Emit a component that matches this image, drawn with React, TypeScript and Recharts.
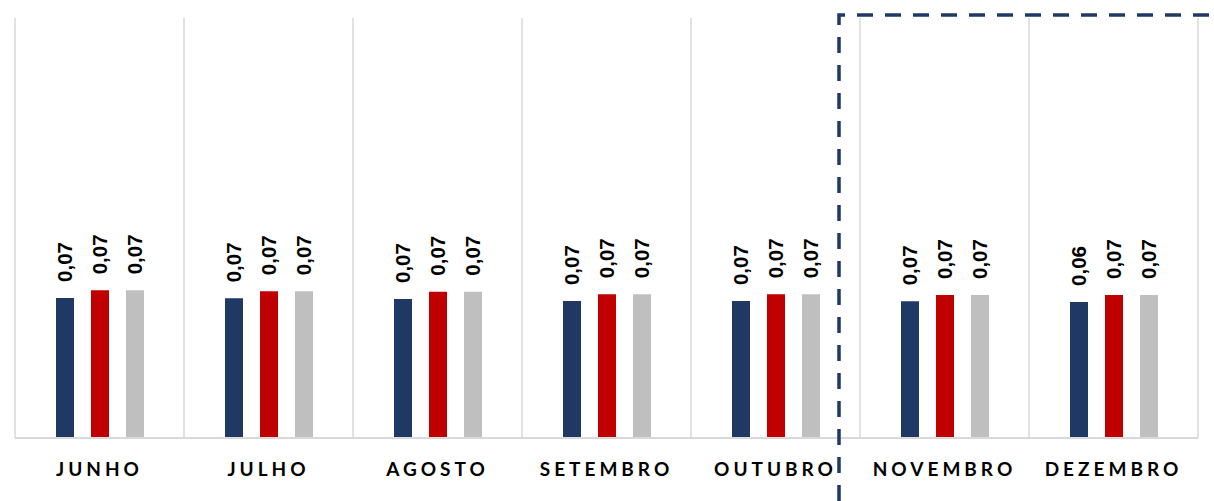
import { Bar, BarChart, CartesianGrid, LabelList, XAxis, YAxis } from "recharts";

const MONTHS = ["JUNHO", "JULHO", "AGOSTO", "SETEMBRO", "OUTUBRO", "NOVEMBRO", "DEZEMBRO"];
const SERIE_A = [0.0667, 0.0665, 0.0662, 0.0652, 0.0652, 0.0651, 0.0648];
const SERIE_B = [0.0703, 0.0699, 0.0697, 0.0685, 0.0684, 0.0681, 0.0681];
const SERIE_C = [0.0703, 0.0699, 0.0697, 0.0685, 0.0684, 0.0681, 0.0681];

const NAVY = "#203864";
const RED = "#C00000";
const GRAY = "#BFBFBF";
const GRID = "#D9D9D9";

const data = MONTHS.map((m, i) => ({ m, a: SERIE_A[i], b: SERIE_B[i], c: SERIE_C[i] }));

const fmt = (v: number) => v.toFixed(2).replace(".", ",");

function ValueLabel(props: any) {
  const { x, y, width, value } = props;
  const cx = x + width / 2;
  const cy = y - 16;
  return (
    <text
      x={cx}
      y={cy}
      transform={`rotate(-90 ${cx} ${cy})`}
      textAnchor="start"
      dominantBaseline="central"
      fontFamily="'Liberation Sans', Arial, sans-serif"
      fontWeight={700}
      fontSize={20.5}
      fill="#000"
    >
      {fmt(value)}
    </text>
  );
}

function MonthTick(props: any) {
  const { x, y, payload } = props;
  return (
    <text
      x={x}
      y={y + 30}
      textAnchor="middle"
      fontFamily="Lato, 'Open Sans', sans-serif"
      fontWeight={700}
      fontSize={19}
      letterSpacing={4}
      fill="#000"
    >
      {payload.value}
    </text>
  );
}

export default function App() {
  return (
    <div style={{ position: "absolute", left: 0, top: 0, width: 1214, height: 501, background: "#fff" }}>
      <BarChart
        width={1214}
        height={501}
        data={data}
        margin={{ top: 18, right: 16, bottom: 13, left: 15 }}
        barSize={18}
        barGap={17}
      >
        <CartesianGrid
          horizontal={false}
          stroke={GRID}
          strokeWidth={1.5}
          verticalCoordinatesGenerator={({ offset }: any) =>
            MONTHS.map((_, i) => offset.left + (i * offset.width) / MONTHS.length).concat(
              offset.left + offset.width
            )
          }
        />
        <XAxis
          dataKey="m"
          axisLine={{ stroke: GRID, strokeWidth: 2 }}
          tickLine={false}
          height={50}
          interval={0}
          tick={<MonthTick />}
        />
        <YAxis hide domain={[0, 0.2]} />
        <Bar dataKey="a" fill={NAVY} isAnimationActive={false}>
          <LabelList dataKey="a" content={<ValueLabel />} />
        </Bar>
        <Bar dataKey="b" fill={RED} isAnimationActive={false}>
          <LabelList dataKey="b" content={<ValueLabel />} />
        </Bar>
        <Bar dataKey="c" fill={GRAY} isAnimationActive={false}>
          <LabelList dataKey="c" content={<ValueLabel />} />
        </Bar>
      </BarChart>
      <svg
        width={1214}
        height={501}
        style={{ position: "absolute", left: 0, top: 0, pointerEvents: "none" }}
      >
        <path
          d="M839 501 V15 H1214"
          fill="none"
          stroke={NAVY}
          strokeWidth={3.5}
          strokeDasharray="16 12"
        />
      </svg>
    </div>
  );
}
